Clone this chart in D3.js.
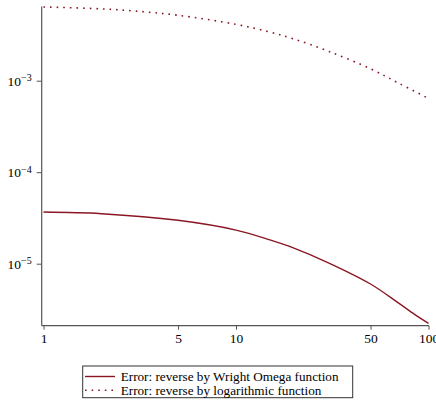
<!DOCTYPE html>
<html><head><meta charset="utf-8">
<script src="https://cdn.jsdelivr.net/npm/d3@7"></script>
<style>
html,body{margin:0;padding:0;background:#fff;}
svg text, svg tspan{font-family:"Liberation Serif","Times New Roman",serif !important;fill:#000;}
</style></head>
<body>
<script>
// Data
const tWright = [1, 2, 5, 10, 15, 20, 30, 50, 70, 85, 100];
const errWright = [3.67e-5, 3.52e-5, 2.98e-5, 2.33e-5, 1.82e-5, 1.48e-5, 1.03e-5, 6.0e-6, 3.7e-6, 2.78e-6, 2.23e-6];
const tLog = [1, 2, 3, 5, 10, 15, 20, 30, 50, 70, 100];
const errLog = [6.4e-3, 6.1e-3, 5.77e-3, 5.19e-3, 4.13e-3, 3.40e-3, 2.86e-3, 2.11e-3, 1.35e-3, 9.4e-4, 6.4e-4];
const xTicks = [1, 5, 10, 50, 100];
const yTicks = [1e-5, 1e-4, 1e-3];
const yTickExp = ["−5", "−4", "−3"];
const legendLabels = ["Error: reverse by Wright Omega function", "Error: reverse by logarithmic function"];

const W = 436, H = 408;
const color = "#8a1624";
const FONT = "Liberation Serif";
const svg = d3.select("body").append("svg").attr("width", W).attr("height", H)
  .attr("font-family", FONT);

const x = d3.scaleLog().domain([1, 100]).range([43.5, 428.5]);
const y = d3.scaleLog().domain([2.1e-6, 6.44e-3]).range([325.7, 6.7]);

const axisColor = "#555";
svg.append("line").attr("x1", 41.7).attr("x2", 41.7).attr("y1", 6.5).attr("y2", 325.7)
  .attr("stroke", axisColor).attr("stroke-width", 1.2);
svg.append("line").attr("x1", 41.7).attr("x2", 429).attr("y1", 325.7).attr("y2", 325.7)
  .attr("stroke", axisColor).attr("stroke-width", 1.2);

// x axis
const gx = svg.append("g").attr("transform", "translate(0,325.7)")
  .call(d3.axisBottom(x).tickValues(xTicks).tickFormat(d3.format("d")).tickSize(4).tickPadding(4))
  .attr("font-family", FONT).attr("font-size", 13.5);
gx.select(".domain").remove();
gx.selectAll(".tick line").attr("stroke", axisColor);
gx.selectAll(".tick text").attr("fill", "#000");

// y axis
const gy = svg.append("g").attr("transform", "translate(41.7,0)")
  .call(d3.axisLeft(y).tickValues(yTicks).tickFormat("").tickSize(5))
  .attr("font-family", FONT).attr("font-size", 13.5);
gy.select(".domain").remove();
gy.selectAll(".tick line").attr("stroke", axisColor);
gy.selectAll(".tick").each(function(d, i) {
  const t = d3.select(this).append("text").attr("x", -10).attr("dy", "0.35em")
    .attr("text-anchor", "end").attr("fill", "#000");
  t.append("tspan").attr("fill", "#000").text("10");
  t.append("tspan").attr("dy", "-0.45em").attr("font-size", 10).attr("fill", "#000").text(yTickExp[i]);
});

// lines
const line = d3.line().x(d => x(d[0])).y(d => y(d[1])).curve(d3.curveCatmullRom.alpha(0.5));
svg.append("path").datum(tWright.map((t, i) => [t, errWright[i]]))
  .attr("d", line).attr("fill", "none").attr("stroke", color).attr("stroke-width", 1.4);
svg.append("path").datum(tLog.map((t, i) => [t, errLog[i]]))
  .attr("d", line).attr("fill", "none").attr("stroke", color).attr("stroke-width", 1.6)
  .attr("stroke-dasharray", "1.6,5");

// legend
const lg = svg.append("g");
lg.append("rect").attr("x", 82.7).attr("y", 366).attr("width", 270).attr("height", 31.7)
  .attr("fill", "#fff").attr("stroke", "#333").attr("stroke-width", 1);
const ly = [376.5, 390.2];
lg.append("line").attr("x1", 85).attr("x2", 115).attr("y1", ly[0]).attr("y2", ly[0])
  .attr("stroke", color).attr("stroke-width", 1.4);
lg.append("line").attr("x1", 85).attr("x2", 115).attr("y1", ly[1]).attr("y2", ly[1])
  .attr("stroke", color).attr("stroke-width", 1.6).attr("stroke-dasharray", "1.6,5");
legendLabels.forEach((s, i) => {
  lg.append("text").attr("x", 120.7).attr("y", ly[i]).attr("dy", "0.33em")
    .attr("font-size", 13.2).attr("fill", "#000").text(s);
});
</script>
</body></html>
